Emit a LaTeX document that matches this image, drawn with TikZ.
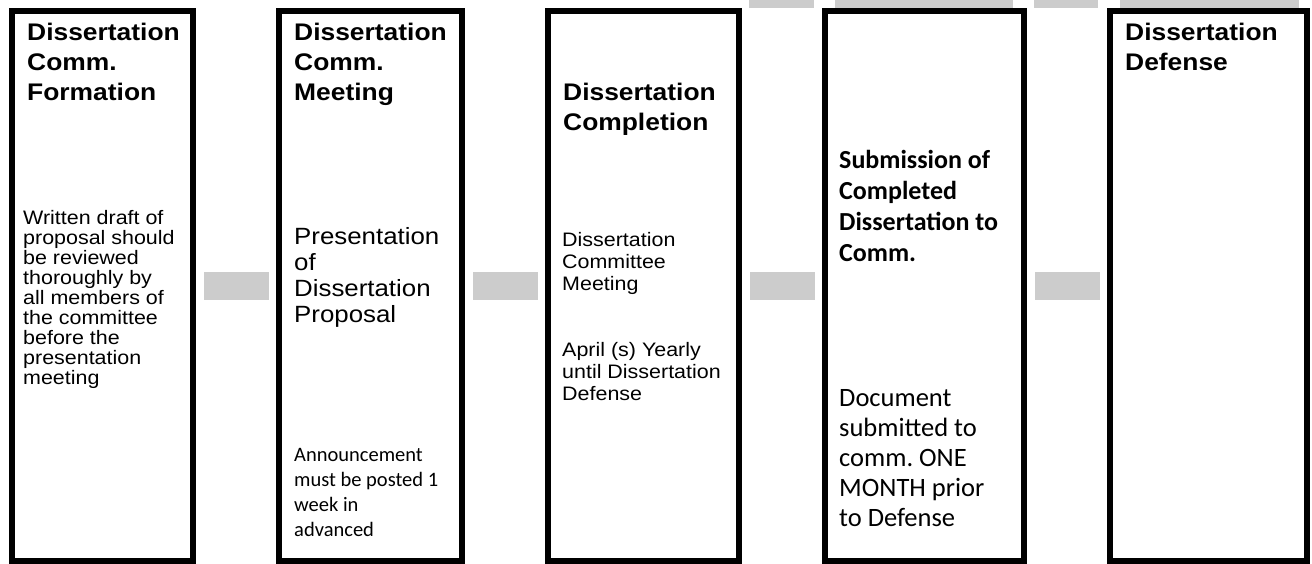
\documentclass[tikz,border=0pt]{standalone}
\usepackage{fontspec}
\setmainfont{Liberation Sans}[FakeStretch=1.1]
\newfontfamily\calibri{Carlito}
\frenchspacing
\usetikzlibrary{positioning}

\begin{document}
\begin{tikzpicture}[x=1pt,y=1pt]

\tikzset{stage/.style = {rectangle, draw, line width=6pt, minimum height=550pt, inner sep=0pt}, }
\tikzset{link/.style = {rectangle, fill=black!20, minimum width=65pt, minimum height=28pt, inner sep=0pt}, }
\tikzset{head/.style = {anchor=base west, align=left, inner sep=0pt, font=\fontsize{24}{30}\selectfont\bfseries}, }
\tikzset{note/.style = {anchor=base west, align=left, inner sep=0pt}, }

\useasboundingbox (0,0) rectangle (1312,564);

% the five stages
\node[stage, minimum width=181pt] (S1) at (102.5,278) {};
\node[stage, minimum width=183pt, right=80pt of S1] (S2) {};
\node[stage, minimum width=191pt, right=80pt of S2] (S3) {};
\node[stage, minimum width=199pt, right=80pt of S3] (S4) {};
\node[stage, minimum width=197pt, right=80pt of S4] (S5) {};

% grey links between stages
\node[link, right=7.5pt of S1] (L1) {};
\node[link, right=7.5pt of S2] (L2) {};
\node[link, right=7.5pt of S3] (L3) {};
\node[link, right=7.5pt of S4] (L4) {};

% grey strips cut by the top edge
\fill[black!20] (749,556) rectangle (814,564);
\fill[black!20] (835,556) rectangle (1013,564);
\fill[black!20] (1034,556) rectangle (1098,564);
\fill[black!20] (1120,556) rectangle (1299,564);

% headings (base = last line)
\node[head] (H1) at (27,463) {Dissertation\\Comm.\\Formation};
\node[head] (H2) at (294,463) {Dissertation\\Comm.\\Meeting};
\node[head] (H3) at (563,433) {Dissertation\\Completion};
\node[head] (H5) at (1125,493) {Dissertation\\Defense};

% texts in the stages
\node[note, font=\fontsize{19.5}{20}\selectfont] (T1) at (23,179) {Written draft of\\proposal should\\be reviewed\\thoroughly by\\all members of\\the committee\\before the\\presentation\\meeting};
\node[note, font=\fontsize{23.5}{26}\selectfont] (T2) at (294,241) {Presentation\\of\\Dissertation\\Proposal};
\node[note, font=\calibri\fontsize{20.5}{25}\selectfont] (T2b) at (294,27) {Announcement\\must be posted 1\\week in\\advanced};
\node[note, font=\fontsize{19.5}{22}\selectfont] (T3) at (562,273) {Dissertation\\Committee\\Meeting};
\node[note, font=\fontsize{19.5}{22}\selectfont] (T3b) at (562,163) {April (s) Yearly\\until Dissertation\\Defense};
\node[note, font=\calibri\bfseries\fontsize{26}{31}\selectfont] (T4) at (839,302) {Submission of\\Completed\\Dissertation to\\Comm.};
\node[note, font=\calibri\fontsize{26.5}{30}\selectfont] (T4b) at (839,37) {Document\\submitted to\\comm. ONE\\MONTH prior\\to Defense};

\end{tikzpicture}
\end{document}
